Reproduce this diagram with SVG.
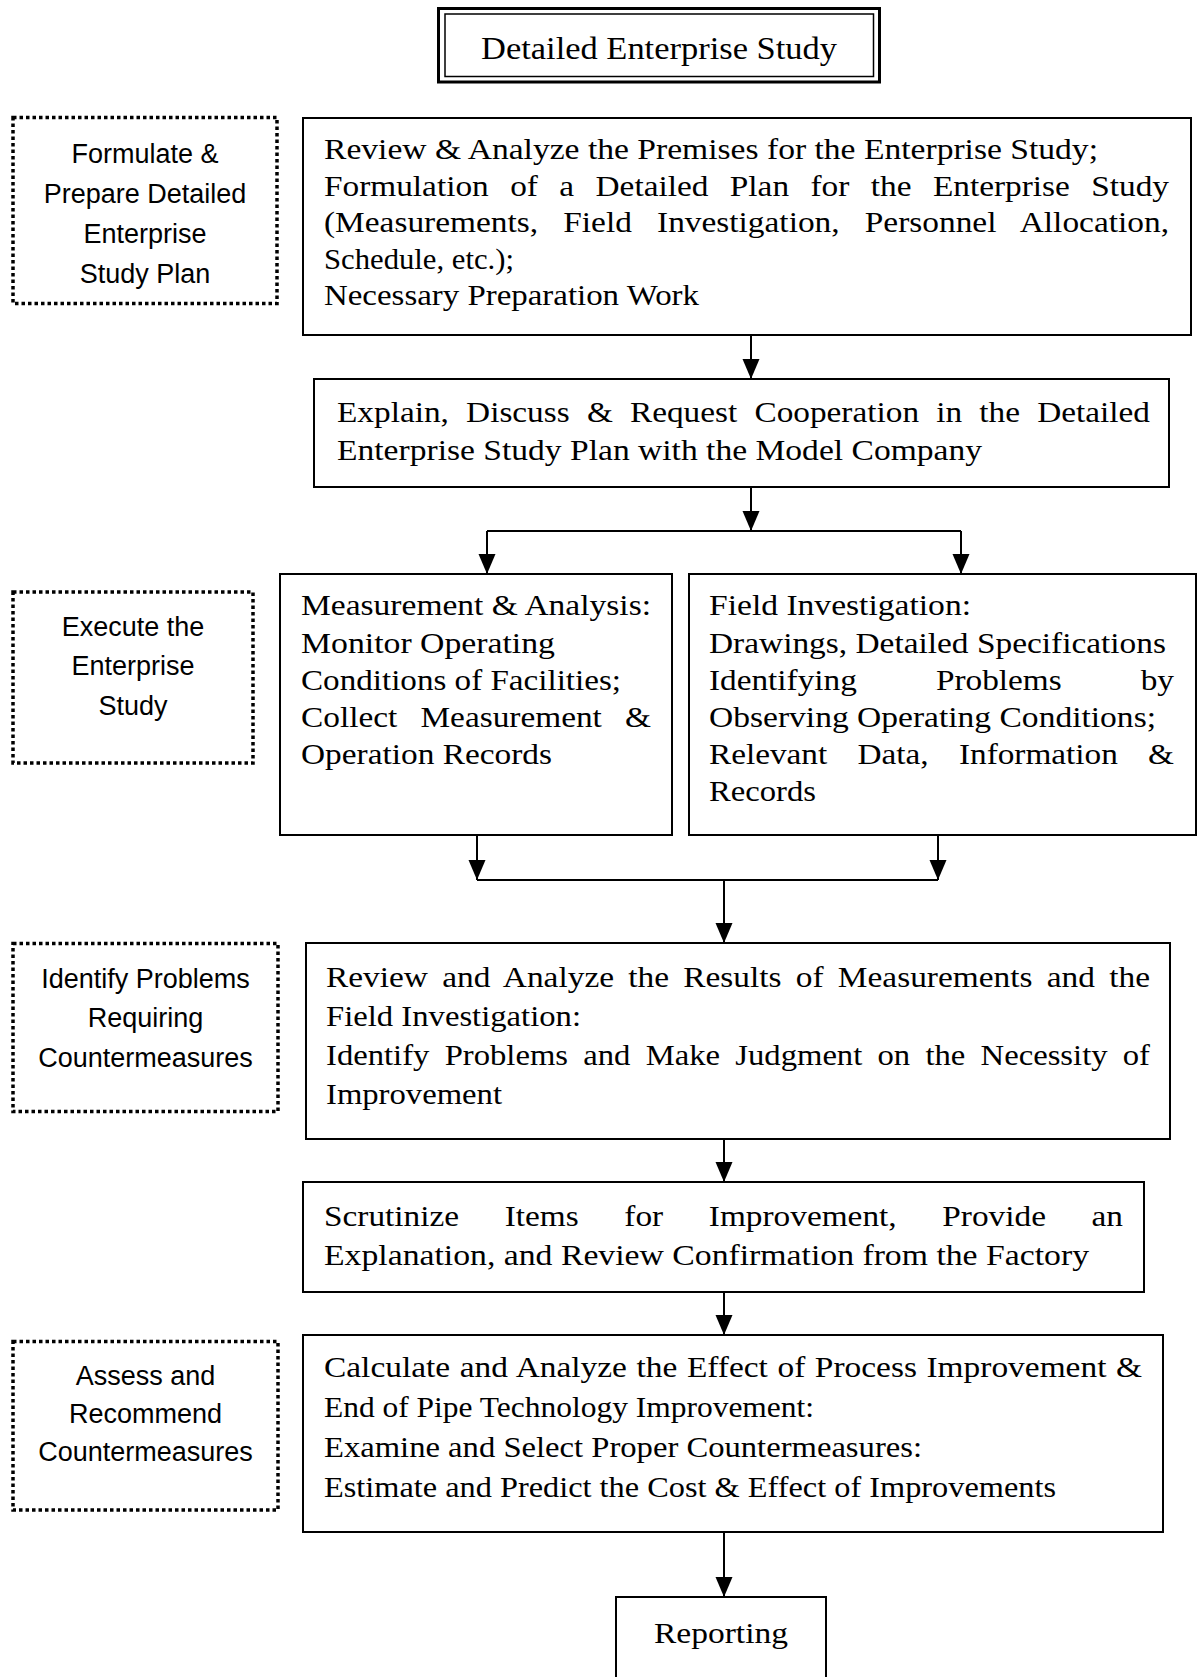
<svg xmlns="http://www.w3.org/2000/svg" width="1197" height="1677" viewBox="0 0 1197 1677">
  <style>
    .box { fill: #fff; stroke: #000; stroke-width: 2; }
    .note { fill: none; stroke: #000; stroke-width: 3.5; stroke-dasharray: 3.5 3; }
    .body { font-family: "Liberation Serif", "Times New Roman", serif; font-size: 30px; fill: #000; }
    .title { font-family: "Liberation Serif", "Times New Roman", serif; font-size: 31px; fill: #000; }
    .side { font-family: "Liberation Sans", Arial, sans-serif; font-size: 27px; fill: #000; text-anchor: middle; }
    .conn { stroke: #000; stroke-width: 2; fill: none; }
    .arrow { marker-end: url(#head); }
  </style>
  <defs>
    <marker id="head" markerUnits="userSpaceOnUse" markerWidth="21" markerHeight="18" refX="20" refY="8.5" orient="auto">
      <path d="M0,0 L20,8.5 L0,17 z" fill="#000"/>
    </marker>
  </defs>

  <rect width="1197" height="1677" fill="#fff"/>

  <!-- connectors -->
  <g id="connectors">
    <line class="conn arrow" x1="751" y1="335" x2="751" y2="379"/>
    <line class="conn arrow" x1="751" y1="488" x2="751" y2="531"/>
    <line class="conn" x1="487" y1="531" x2="961" y2="531"/>
    <line class="conn arrow" x1="487" y1="531" x2="487" y2="574"/>
    <line class="conn arrow" x1="961" y1="531" x2="961" y2="574"/>
    <line class="conn arrow" x1="477" y1="836" x2="477" y2="880"/>
    <line class="conn arrow" x1="938" y1="836" x2="938" y2="880"/>
    <line class="conn" x1="477" y1="880" x2="938" y2="880"/>
    <line class="conn arrow" x1="724" y1="880" x2="724" y2="943"/>
    <line class="conn arrow" x1="724" y1="1139" x2="724" y2="1182"/>
    <line class="conn arrow" x1="724" y1="1292" x2="724" y2="1335"/>
    <line class="conn arrow" x1="724" y1="1532" x2="724" y2="1597"/>
  </g>

  <!-- heading -->
  <g id="title">
    <rect x="438.5" y="8.5" width="441" height="73.5" fill="#fff" stroke="#000" stroke-width="3"/>
    <rect x="445" y="14" width="428.5" height="62.5" fill="none" stroke="#000" stroke-width="1.5"/>
    <text class="title" x="481" y="59" textLength="356" lengthAdjust="spacingAndGlyphs">Detailed Enterprise Study</text>
  </g>

  <!-- stage labels -->
  <g id="stage-plan">
    <rect class="note" x="13" y="117.5" width="264" height="186"/>
    <text class="side" x="145" y="163">Formulate &amp;</text>
    <text class="side" x="145" y="203">Prepare Detailed</text>
    <text class="side" x="145" y="243">Enterprise</text>
    <text class="side" x="145" y="283">Study Plan</text>
  </g>
  <g id="stage-execute">
    <rect class="note" x="13" y="592" width="240" height="171"/>
    <text class="side" x="133" y="636">Execute the</text>
    <text class="side" x="133" y="675">Enterprise</text>
    <text class="side" x="133" y="715">Study</text>
  </g>
  <g id="stage-identify">
    <rect class="note" x="13" y="943.5" width="265" height="168"/>
    <text class="side" x="145.5" y="988">Identify Problems</text>
    <text class="side" x="145.5" y="1027">Requiring</text>
    <text class="side" x="145.5" y="1067">Countermeasures</text>
  </g>
  <g id="stage-assess">
    <rect class="note" x="13" y="1341.5" width="265" height="168.5"/>
    <text class="side" x="145.5" y="1385">Assess and</text>
    <text class="side" x="145.5" y="1423">Recommend</text>
    <text class="side" x="145.5" y="1461">Countermeasures</text>
  </g>

  <!-- process steps -->
  <g id="step-plan">
    <rect class="box" x="303" y="118" width="888" height="217"/>
    <text class="body" x="324" y="159" textLength="774" lengthAdjust="spacingAndGlyphs">Review &amp; Analyze the Premises for the Enterprise Study;</text>
    <text class="body" x="324" y="195.5" textLength="845" lengthAdjust="spacingAndGlyphs" word-spacing="11.8">Formulation of a Detailed Plan for the Enterprise Study</text>
    <text class="body" x="324" y="232" textLength="845" lengthAdjust="spacingAndGlyphs" word-spacing="15.1">(Measurements, Field Investigation, Personnel Allocation,</text>
    <text class="body" x="324" y="268.5" textLength="190" lengthAdjust="spacingAndGlyphs">Schedule, etc.);</text>
    <text class="body" x="324" y="305" textLength="375" lengthAdjust="spacingAndGlyphs">Necessary Preparation Work</text>
  </g>

  <g id="step-explain">
    <rect class="box" x="314" y="379" width="855" height="108"/>
    <text class="body" x="337" y="422" textLength="813" lengthAdjust="spacingAndGlyphs" word-spacing="8">Explain, Discuss &amp; Request Cooperation in the Detailed</text>
    <text class="body" x="337" y="460" textLength="645" lengthAdjust="spacingAndGlyphs">Enterprise Study Plan with the Model Company</text>
  </g>

  <g id="step-measure">
    <rect class="box" x="280" y="574" width="392" height="261"/>
    <text class="body" x="301" y="615" textLength="350" lengthAdjust="spacingAndGlyphs">Measurement &amp; Analysis:</text>
    <text class="body" x="301" y="652.5" textLength="254" lengthAdjust="spacingAndGlyphs">Monitor Operating</text>
    <text class="body" x="301" y="690" textLength="320" lengthAdjust="spacingAndGlyphs">Conditions of Facilities;</text>
    <text class="body" x="301" y="727" textLength="350" lengthAdjust="spacingAndGlyphs" word-spacing="13.4">Collect Measurement &amp;</text>
    <text class="body" x="301" y="764" textLength="251" lengthAdjust="spacingAndGlyphs">Operation Records</text>
  </g>

  <g id="step-field">
    <rect class="box" x="689" y="574" width="507" height="261"/>
    <text class="body" x="709" y="615" textLength="262" lengthAdjust="spacingAndGlyphs">Field Investigation:</text>
    <text class="body" x="709" y="652.5" textLength="457" lengthAdjust="spacingAndGlyphs">Drawings, Detailed Specifications</text>
    <text class="body" x="709" y="690" textLength="465" lengthAdjust="spacingAndGlyphs" word-spacing="63.8">Identifying Problems by</text>
    <text class="body" x="709" y="727" textLength="447" lengthAdjust="spacingAndGlyphs">Observing Operating Conditions;</text>
    <text class="body" x="709" y="764" textLength="465" lengthAdjust="spacingAndGlyphs" word-spacing="19.8">Relevant Data, Information &amp;</text>
    <text class="body" x="709" y="801" textLength="107" lengthAdjust="spacingAndGlyphs">Records</text>
  </g>

  <g id="step-review">
    <rect class="box" x="306" y="943" width="864" height="196"/>
    <text class="body" x="326" y="987" textLength="824" lengthAdjust="spacingAndGlyphs" word-spacing="5.3">Review and Analyze the Results of Measurements and the</text>
    <text class="body" x="326" y="1026" textLength="255" lengthAdjust="spacingAndGlyphs">Field Investigation:</text>
    <text class="body" x="326" y="1065" textLength="824" lengthAdjust="spacingAndGlyphs" word-spacing="6.5">Identify Problems and Make Judgment on the Necessity of</text>
    <text class="body" x="326" y="1104" textLength="176" lengthAdjust="spacingAndGlyphs">Improvement</text>
  </g>

  <g id="step-scrutinize">
    <rect class="box" x="303" y="1182" width="841" height="110"/>
    <text class="body" x="324" y="1226" textLength="799" lengthAdjust="spacingAndGlyphs" word-spacing="33.6">Scrutinize Items for Improvement, Provide an</text>
    <text class="body" x="324" y="1265" textLength="765" lengthAdjust="spacingAndGlyphs">Explanation, and Review Confirmation from the Factory</text>
  </g>

  <g id="step-assess">
    <rect class="box" x="303" y="1335" width="860" height="197"/>
    <text class="body" x="324" y="1377" textLength="818" lengthAdjust="spacingAndGlyphs" word-spacing="1.1">Calculate and Analyze the Effect of Process Improvement &amp;</text>
    <text class="body" x="324" y="1417" textLength="490" lengthAdjust="spacingAndGlyphs">End of Pipe Technology Improvement:</text>
    <text class="body" x="324" y="1457" textLength="598" lengthAdjust="spacingAndGlyphs">Examine and Select Proper Countermeasures:</text>
    <text class="body" x="324" y="1497" textLength="732" lengthAdjust="spacingAndGlyphs">Estimate and Predict the Cost &amp; Effect of Improvements</text>
  </g>

  <g id="step-report">
    <rect class="box" x="616" y="1597" width="210" height="100"/>
    <text class="body" x="654" y="1643" textLength="134" lengthAdjust="spacingAndGlyphs">Reporting</text>
  </g>
</svg>
